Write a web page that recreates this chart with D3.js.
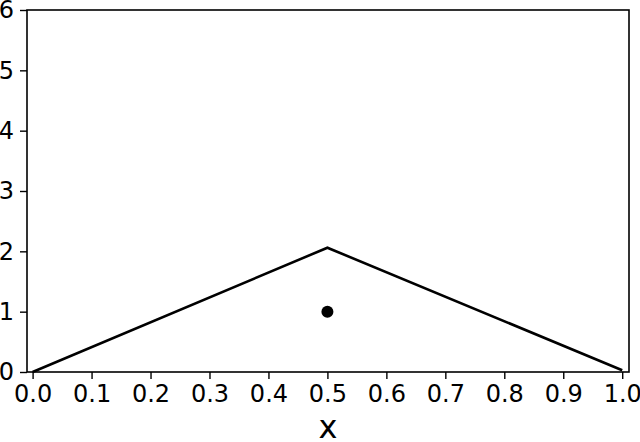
<!DOCTYPE html>
<html>
<head>
<meta charset="utf-8">
<script src="https://cdn.jsdelivr.net/npm/d3@7"></script>
<style>
  body { margin: 0; background: #fff; }
  svg { display: block; font-family: "DejaVu Sans", sans-serif; }
</style>
</head>
<body>
<svg id="chart" width="640" height="442"></svg>
<script>
// line through the three corners, plus the single marker
const lineX = [0.0, 0.5, 1.0];
const lineY = [0.0, 2.06, 0.03];
const pointX = [0.5];
const pointY = [1.0];
const xTicks = [0, 0.1, 0.2, 0.3, 0.4, 0.5, 0.6, 0.7, 0.8, 0.9, 1.0];
const yTicks = [0, 1, 2, 3, 4, 5, 6];
const xLabel = "x";

const svg = d3.select("#chart");
const mLeft = 27, mRight = 629, mTop = 10, mBottom = 372;

const x = d3.scaleLinear().domain([-0.0095, 1.0115]).range([mLeft, mRight]);
const y = d3.scaleLinear().domain([0, 6]).range([mBottom, mTop]);

const xAxis = d3.axisBottom(x)
  .tickValues(xTicks)
  .tickFormat(d3.format(".1f"))
  .tickSize(7)
  .tickPadding(6);

const yAxis = d3.axisLeft(y)
  .tickValues(yTicks)
  .tickFormat(d3.format("d"))
  .tickSize(7)
  .tickPadding(6);

const gx = svg.append("g")
  .attr("transform", `translate(0,${mBottom})`)
  .call(xAxis);

const gy = svg.append("g")
  .attr("transform", `translate(${mLeft},0)`)
  .call(yAxis);

[gx, gy].forEach(g => {
  g.select(".domain").remove();
  g.selectAll(".tick line").attr("stroke", "#000").attr("stroke-width", 1.4);
  g.selectAll(".tick text")
    .attr("fill", "#000")
    .attr("font-size", 24)
    .attr("font-family", "DejaVu Sans, sans-serif");
});

// frame
svg.append("rect")
  .attr("x", mLeft)
  .attr("y", mTop)
  .attr("width", mRight - mLeft)
  .attr("height", mBottom - mTop)
  .attr("fill", "none")
  .attr("stroke", "#000")
  .attr("stroke-width", 1.6);

const line = d3.line()
  .x(d => x(d[0]))
  .y(d => y(d[1]));

svg.append("path")
  .datum(d3.zip(lineX, lineY))
  .attr("d", line)
  .attr("fill", "none")
  .attr("stroke", "#000")
  .attr("stroke-width", 2.6);

svg.selectAll(".pt")
  .data(d3.zip(pointX, pointY))
  .enter()
  .append("circle")
  .attr("class", "pt")
  .attr("cx", d => x(d[0]))
  .attr("cy", d => y(d[1]))
  .attr("r", 6)
  .attr("fill", "#000");

svg.append("text")
  .attr("x", (mLeft + mRight) / 2)
  .attr("y", 438)
  .attr("text-anchor", "middle")
  .attr("font-size", 32)
  .attr("fill", "#000")
  .text(xLabel);
</script>
</body>
</html>
